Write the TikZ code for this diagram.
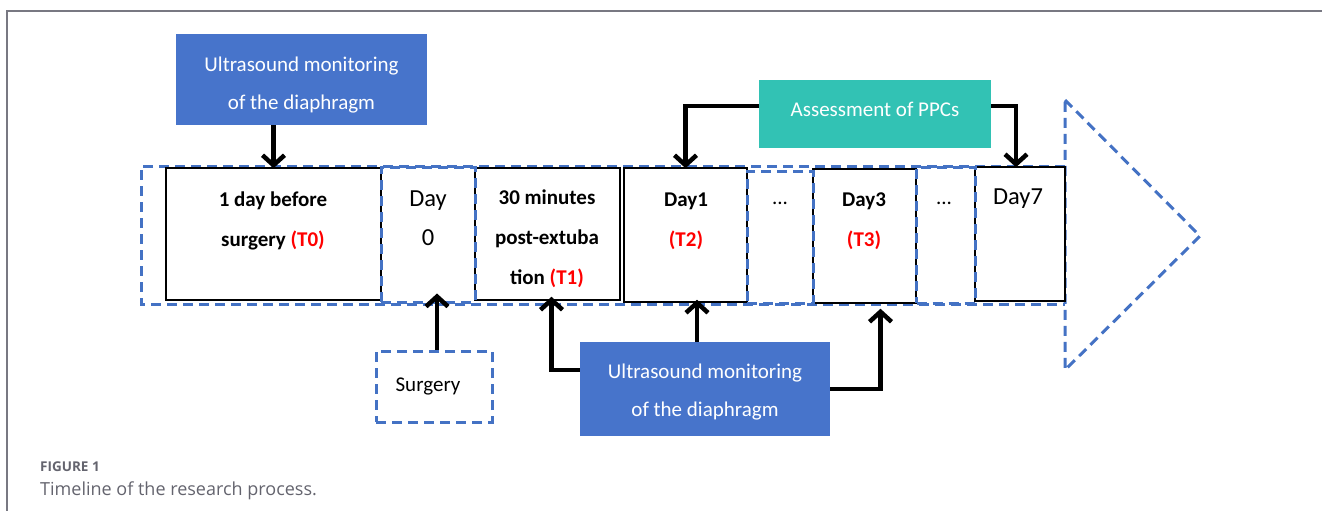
\documentclass[tikz,border=0pt]{standalone}
\usepackage{fontspec}
\setmainfont{Carlito}
\newfontfamily\capfont{Open Sans}
\usetikzlibrary{arrows.meta}
\definecolor{dblue}{RGB}{68,114,196}
\definecolor{boxblue}{RGB}{71,116,203}
\definecolor{tealbox}{RGB}{50,194,180}
\definecolor{framegray}{RGB}{120,120,130}
\definecolor{capgray}{RGB}{100,100,110}
\definecolor{tred}{RGB}{255,0,0}
\tikzset{
  solidbox/.style={draw=black, line width=1.5pt, fill=white, inner sep=0pt, minimum width=#1},
  dashline/.style={draw=dblue, line width=3pt, dash pattern=on 10pt off 6pt},
  arr/.style={line width=4.5pt, -{Straight Barb[length=10pt,width=22pt]}},
  filledbox/.style={fill=#1, inner sep=0pt},
  boxtext/.style={text=white, align=center, font=\fontsize{21}{38}\selectfont},
  lbl/.style={align=center, font=\fontsize{21}{40}\selectfont\bfseries},
  daylbl/.style={align=center, font=\fontsize{24.5}{39}\selectfont},
}
\begin{document}
\begin{tikzpicture}[x=1pt,y=-1pt]
\useasboundingbox (0,0) rectangle (1322,511);
% frame
\draw[framegray, line width=1.5pt] (7,511) -- (7,11) -- (1322,11);

% big arrow outline
\draw[dashline] (1065,166) -- (141,166) -- (141,304) -- (1065,304);
\draw[dashline] (1065,100) -- (1200,236) -- (1065,370) -- cycle;

% solid boxes
\node[solidbox=215pt, minimum height=132pt] (t0) at (273.5,234) {};
\node[solidbox=145pt, minimum height=132pt] (t1) at (547.5,234) {};
\node[solidbox=123pt, minimum height=134pt] (day1) at (685.5,235) {};
\node[solidbox=103pt, minimum height=134pt] (day3) at (864.5,236) {};
\node[solidbox=90pt, minimum height=134pt] (day7) at (1020,234) {};

% dashed inner boxes
\node[dashline, minimum width=94pt, minimum height=135pt, inner sep=0pt] (day0) at (428,234.5) {};
\node[dashline, minimum width=66pt, minimum height=132pt, inner sep=0pt] (gap1) at (780,237) {};
\node[dashline, minimum width=59pt, minimum height=136pt, inner sep=0pt] (gap2) at (946,235) {};

% labels
\node[lbl] (t0txt) at (273,221) {1 day before\\surgery \textcolor{tred}{(T0)}};
\node[lbl] (t1txt) at (547,239) {30 minutes\\post-extuba\\tion \textcolor{tred}{(T1)}};
\node[lbl] (d1txt) at (686,221) {Day1\\\textcolor{tred}{(T2)}};
\node[lbl] (d3txt) at (864,221) {Day3\\\textcolor{tred}{(T3)}};
\node[daylbl] (d0txt) at (428,218) {Day\\0};
\node[daylbl] (d7txt) at (1018,199) {Day7};
\node[font=\fontsize{21}{24}\selectfont] (dots1) at (780,203) {...};
\node[font=\fontsize{21}{24}\selectfont] (dots2) at (944,203) {...};

% top blue box
\node[filledbox=boxblue, minimum width=251pt, minimum height=91pt] (us1) at (301.5,79.5) {};
\node[boxtext] (us1txt) at (301.5,85.5) {Ultrasound monitoring\\of the diaphragm};
% assessment box
\node[filledbox=tealbox, minimum width=232pt, minimum height=68pt] (ppc) at (875,114) {};
\node[boxtext] (ppctxt) at (875,109) {Assessment of PPCs};
% bottom blue box
\node[filledbox=boxblue, minimum width=250pt, minimum height=94pt] (us2) at (705,389) {};
\node[boxtext] (us2txt) at (705,392) {Ultrasound monitoring\\of the diaphragm};
% surgery box
\node[dashline, minimum width=116pt, minimum height=71pt, inner sep=0pt, font=\fontsize{21}{24}\selectfont, text=black] (sbox) at (434,386.5) {\hspace*{-12pt}Surgery};

% connectors
\draw[arr] (t0.north |- us1.south) -- ([yshift=-1pt]t0.north);
\draw[arr] ([yshift=8pt]ppc.west) -| ([yshift=-1pt]day1.north);
\draw[arr] ([yshift=8pt]ppc.east) -| ([xshift=-4pt,yshift=-1pt]day7.north);
\draw[arr] ([yshift=19pt]us2.west) -| ([xshift=4pt,yshift=4pt]t1.south);
\draw[arr] ([xshift=-8pt]us2.north) -- ([xshift=-8pt,yshift=3pt]us2.north |- day1.south);
\draw[arr] (us2.east) -| ([xshift=16pt,yshift=-5pt]day3.south);
\draw[arr] ([xshift=3pt]sbox.north) -- ([xshift=3pt,yshift=10pt]sbox.north |- day0.south);

% caption
\node[anchor=base west, inner sep=0pt, text=capgray, font=\capfont\fontsize{13.5}{15}\selectfont\bfseries] (figlbl) at (40,471) {FIGURE 1};
\node[anchor=base west, inner sep=0pt, text=capgray, font=\capfont\fontsize{18}{20}\selectfont] (figcap) at (40,495) {Timeline of the research process.};
\end{tikzpicture}
\end{document}
